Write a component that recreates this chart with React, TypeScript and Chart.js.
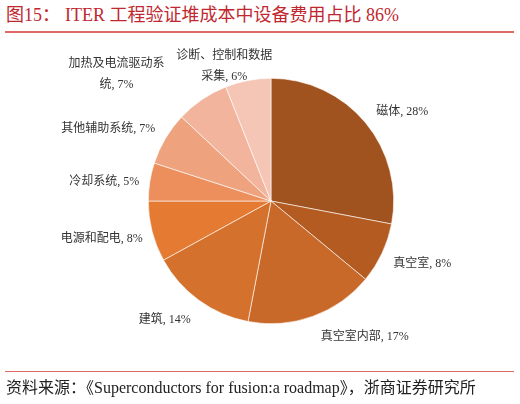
import { useEffect, useRef } from "react"
import { Chart, registerables } from "chart.js"

Chart.register(...registerables)

// ITER cost split, percent
const categories = [
	"磁体",
	"真空室",
	"真空室内部",
	"建筑",
	"电源和配电",
	"冷却系统",
	"其他辅助系统",
	"加热及电流驱动系统",
	"诊断、控制和数据采集"
]
const shares = [28, 8, 17, 14, 8, 5, 7, 7, 6]
const sliceColors = [
	"#A0531E",
	"#B35B20",
	"#C8692A",
	"#D4722D",
	"#E57A32",
	"#EC8F5C",
	"#EFA27E",
	"#F2B49C",
	"#F5C6B6"
]

// small hand nudges for the outside labels, like the original layout
const labelNudge = [
	[9, 0],
	[5, 3],
	[34, 4],
	[-13, 6],
	[-1, 3],
	[-1, 3],
	[-8, -1],
	[-53, -2],
	[-13, 13]
]

const LABEL_FONT = '12px "Liberation Serif", "Noto Sans CJK SC"'
const LINE_H = 21

function labelLines(i: number) {
	const name = categories[i]
	const tail = `, ${shares[i]}%`
	if (name.length > 8) return [name.slice(0, 8), name.slice(8) + tail]
	return [name + tail]
}

const sliceLabels = {
	id: "sliceLabels",
	afterDatasetsDraw(chart: Chart) {
		const ctx = chart.ctx
		const meta = chart.getDatasetMeta(0)
		ctx.save()
		ctx.font = LABEL_FONT
		ctx.fillStyle = "#333333"
		ctx.textAlign = "center"
		ctx.textBaseline = "middle"
		meta.data.forEach((arc: any, i: number) => {
			const { x, y, startAngle, endAngle, outerRadius } = arc.getProps(
				["x", "y", "startAngle", "endAngle", "outerRadius"],
				true
			)
			const mid = (startAngle + endAngle) / 2
			const lines = labelLines(i)
			const w = Math.max(...lines.map((l) => ctx.measureText(l).width))
			const h = 14 + (lines.length - 1) * LINE_H
			const r = outerRadius + 10
			const cx = x + Math.cos(mid) * (r + w / 2) + labelNudge[i][0]
			const cy = y + Math.sin(mid) * (r + h / 2) + labelNudge[i][1]
			lines.forEach((l, k) => {
				ctx.fillText(l, cx, cy - ((lines.length - 1) * LINE_H) / 2 + k * LINE_H)
			})
		})
		ctx.restore()
	}
}

export default function App() {
	const canvasRef = useRef<HTMLCanvasElement>(null)

	useEffect(() => {
		const ctx = canvasRef.current?.getContext("2d") as CanvasRenderingContext2D
		const chart = new Chart(ctx, {
			type: "pie",
			data: {
				labels: categories,
				datasets: [
					{
						data: shares,
						backgroundColor: sliceColors,
						borderColor: "#ffffff",
						borderWidth: 0.6
					}
				]
			},
			options: {
				responsive: false,
				animation: false,
				layout: {
					padding: { left: 148, right: 126, top: 78, bottom: 80 }
				},
				plugins: {
					legend: { display: false },
					tooltip: { enabled: false }
				}
			},
			plugins: [sliceLabels]
		})

		return () => {
			chart.destroy()
		}
	}, [])

	return (
		<div
			style={{
				position: "fixed",
				left: 0,
				top: 0,
				width: 520,
				height: 404,
				background: "#fff",
				fontFamily: '"Liberation Serif", "Noto Sans CJK SC", serif'
			}}
		>
			<div
				style={{
					position: "absolute",
					left: 6,
					top: 3,
					fontSize: 18,
					lineHeight: "24px",
					color: "#C0282F",
					whiteSpace: "nowrap"
				}}
			>
				图15：<span style={{ marginLeft: 5 }}>ITER 工程验证堆成本中设备费用占比 86%</span>
			</div>
			<div
				style={{
					position: "absolute",
					left: 5,
					top: 31,
					width: 509,
					height: 2,
					background: "#DB6A64"
				}}
			/>
			<canvas ref={canvasRef} width={520} height={404} style={{ position: "absolute", left: 0, top: 0 }} />
			<div
				style={{
					position: "absolute",
					left: 5,
					top: 371,
					width: 509,
					height: 1,
					background: "#DB6A64"
				}}
			/>
			<div
				style={{
					position: "absolute",
					left: 6,
					top: 377,
					fontSize: 16,
					lineHeight: "22px",
					color: "#222",
					whiteSpace: "nowrap"
				}}
			>
				资料来源：《Superconductors for fusion:a roadmap》，浙商证券研究所
			</div>
		</div>
	)
}
